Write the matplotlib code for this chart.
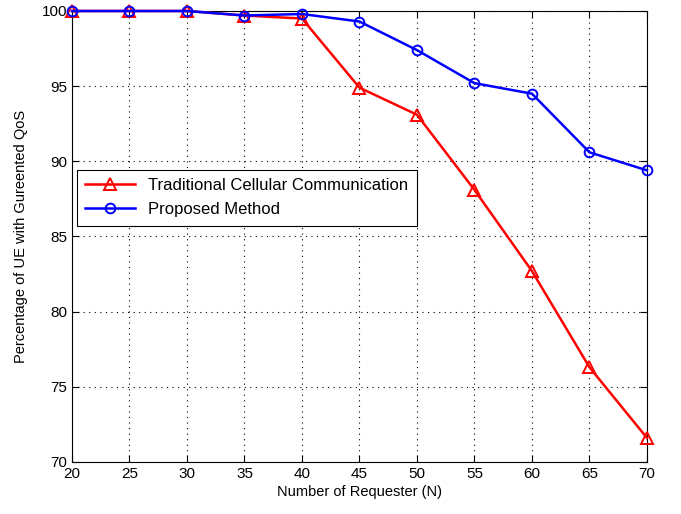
import matplotlib
matplotlib.use("Agg")
import matplotlib.pyplot as plt

plt.rcParams["font.family"] = ["Liberation Sans", "DejaVu Sans"]

requesters = [20, 25, 30, 35, 40, 45, 50, 55, 60, 65, 70]
traditional = [100, 100, 100, 99.7, 99.5, 94.9, 93.1, 88.1, 82.7, 76.3, 71.6]
proposed = [100, 100, 100, 99.7, 99.8, 99.3, 97.4, 95.2, 94.5, 90.6, 89.4]
y_ticks = [70, 75, 80, 85, 90, 95, 100]

fig = plt.figure(figsize=(6.81, 5.14), dpi=100)
ax = fig.add_axes([0.1057, 0.1012, 0.8443, 0.8774])

ax.plot(requesters, traditional, color="red", marker="^", markersize=8,
        markerfacecolor="none", markeredgewidth=1.4, linewidth=1.8,
        label="Traditional Cellular Communication", clip_on=False, zorder=3)
ax.plot(requesters, proposed, color="blue", marker="o", markersize=7,
        markerfacecolor="none", markeredgewidth=1.4, linewidth=1.8,
        label="Proposed Method", clip_on=False, zorder=3)

ax.set_xlim(20, 70)
ax.set_ylim(70, 100)
ax.set_xticks(requesters)
ax.set_yticks(y_ticks)
ax.grid(True, linestyle=(0, (1, 4)), color="black", linewidth=0.8)
ax.tick_params(direction="in", labelsize=11, length=5, top=True, right=True)
for sp in ax.spines.values():
    sp.set_linewidth(0.8)

ax.set_xlabel("Number of Requester (N)", fontsize=10.5, labelpad=3)
ax.set_ylabel("Percentage of UE with Gureented QoS", fontsize=10.5, labelpad=10)

leg = ax.legend(loc="upper left", bbox_to_anchor=(0.008, 0.648), fontsize=12,
                borderaxespad=0, fancybox=False, edgecolor="black",
                framealpha=1, handlelength=3, borderpad=0.5,
                labelspacing=0.55)
leg.get_frame().set_linewidth(0.8)

fig.savefig("out.png", dpi=100)
